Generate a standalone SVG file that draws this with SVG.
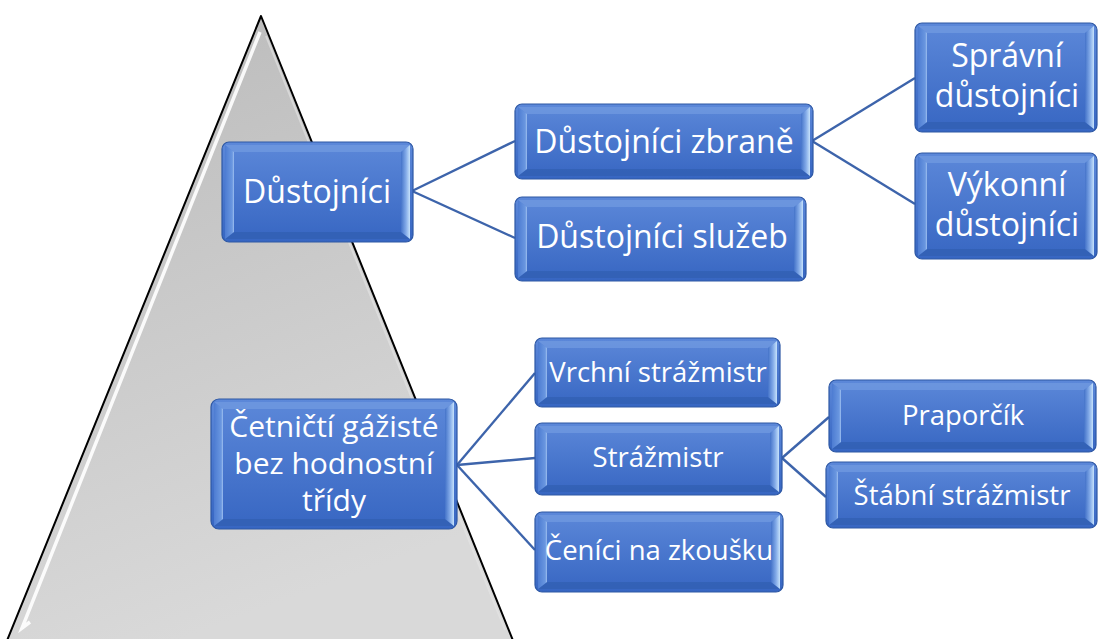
<svg xmlns="http://www.w3.org/2000/svg" width="1098" height="639" viewBox="0 0 1098 639">
<defs>
<linearGradient id="tri" x1="0" y1="0" x2="0.3" y2="1">
<stop offset="0" stop-color="#bababa"/>
<stop offset="1" stop-color="#d9d9d9"/>
</linearGradient>
<linearGradient id="face" x1="0" y1="0" x2="0" y2="1">
<stop offset="0" stop-color="#5c88d9"/>
<stop offset="1" stop-color="#3766c2"/>
</linearGradient>
<linearGradient id="rb" x1="0" y1="0" x2="1" y2="0">
<stop offset="0" stop-color="#4473c9"/>
<stop offset="0.55" stop-color="#82aae8"/>
<stop offset="1" stop-color="#c6e2fb"/>
</linearGradient>
<linearGradient id="lb" x1="0" y1="0" x2="1" y2="0">
<stop offset="0" stop-color="#4d7cd2"/>
<stop offset="0.8" stop-color="#6a97e0"/>
<stop offset="1" stop-color="#9fc0f0"/>
</linearGradient>
<style>
.box{fill:url(#face);stroke:#2e58a4;stroke-width:1.2}
.tb{fill:#6f98e0;opacity:0.8}
.bb{fill:#3260b4;opacity:0.85}
.lb{fill:url(#lb)}
.rb{fill:url(#rb)}
.t{fill:#ffffff;font-family:"Open Sans","Noto Sans","Liberation Sans",sans-serif;text-anchor:middle}
.l{font-size:32px}
.m{font-size:30px}
.s{font-size:27.5px}
.c{stroke:#3d64ab;stroke-width:2.4;fill:none}
</style>
</defs>
<rect width="1098" height="639" fill="#ffffff"/>
<g id="pyramid">
<polygon points="261,16 4,648 516,648" fill="url(#tri)" stroke="#000000" stroke-width="2" stroke-linejoin="round"/>
<polyline points="260,32 22,628 30,622" fill="none" stroke="#ffffff" stroke-width="3.5" opacity="0.9"/>
<line x1="266" y1="36" x2="505" y2="630" stroke="#e6e6e6" stroke-width="2" opacity="0.6"/>
</g>
<g id="connectors">
<line class="c" x1="412" y1="191" x2="515" y2="141"/>
<line class="c" x1="412" y1="191" x2="515" y2="238"/>
<line class="c" x1="812" y1="141" x2="915" y2="78"/>
<line class="c" x1="812" y1="141" x2="915" y2="204"/>
<line class="c" x1="457" y1="465" x2="535" y2="373"/>
<line class="c" x1="457" y1="465" x2="535" y2="458"/>
<line class="c" x1="457" y1="465" x2="535" y2="550"/>
<line class="c" x1="782" y1="458" x2="829" y2="417"/>
<line class="c" x1="782" y1="458" x2="826" y2="497"/>
</g>
<g id="n-dustojnici">
<rect class="box" x="222" y="142" width="191" height="100" rx="7"/>
<polygon class="tb" points="225,145 410,145 401,152 234,152"/>
<polygon class="bb" points="225,239 410,239 401,232 234,232"/>
<polygon class="lb" points="225,145 234,152 234,232 225,239"/>
<polygon class="rb" points="401,152 410,145 410,239 401,232"/>
<text class="t l" x="317" y="203">Důstojníci</text>
</g>
<g id="n-zbrane">
<rect class="box" x="515" y="104" width="298" height="75" rx="7"/>
<polygon class="tb" points="518,107 810,107 801,114 527,114"/>
<polygon class="bb" points="518,176 810,176 801,169 527,169"/>
<polygon class="lb" points="518,107 527,114 527,169 518,176"/>
<polygon class="rb" points="801,114 810,107 810,176 801,169"/>
<text class="t l" x="664" y="153">Důstojníci zbraně</text>
</g>
<g id="n-sluzeb">
<rect class="box" x="515" y="197" width="291" height="84" rx="7"/>
<polygon class="tb" points="518,200 803,200 794,207 527,207"/>
<polygon class="bb" points="518,278 803,278 794,271 527,271"/>
<polygon class="lb" points="518,200 527,207 527,271 518,278"/>
<polygon class="rb" points="794,207 803,200 803,278 794,271"/>
<text class="t l" x="662" y="248">Důstojníci služeb</text>
</g>
<g id="n-spravni">
<rect class="box" x="915" y="23" width="182" height="109" rx="7"/>
<polygon class="tb" points="918,26 1094,26 1085,33 927,33"/>
<polygon class="bb" points="918,129 1094,129 1085,122 927,122"/>
<polygon class="lb" points="918,26 927,33 927,122 918,129"/>
<polygon class="rb" points="1085,33 1094,26 1094,129 1085,122"/>
<text class="t l" x="1007" y="67">Správní</text>
<text class="t l" x="1007" y="107">důstojníci</text>
</g>
<g id="n-vykonni">
<rect class="box" x="915" y="153" width="182" height="106" rx="7"/>
<polygon class="tb" points="918,156 1094,156 1085,163 927,163"/>
<polygon class="bb" points="918,256 1094,256 1085,249 927,249"/>
<polygon class="lb" points="918,156 927,163 927,249 918,256"/>
<polygon class="rb" points="1085,163 1094,156 1094,256 1085,249"/>
<text class="t l" x="1007" y="196">Výkonní</text>
<text class="t l" x="1007" y="236">důstojníci</text>
</g>
<g id="n-cetnicti">
<rect class="box" x="211" y="399" width="246" height="130" rx="8"/>
<polygon class="tb" points="214,402 454,402 445,409 223,409"/>
<polygon class="bb" points="214,526 454,526 445,519 223,519"/>
<polygon class="lb" points="214,402 223,409 223,519 214,526"/>
<polygon class="rb" points="445,409 454,402 454,526 445,519"/>
<text class="t m" x="334" y="437">Četničtí gážisté</text>
<text class="t m" x="334" y="474">bez hodnostní</text>
<text class="t m" x="334" y="511">třídy</text>
</g>
<g id="n-vrchni">
<rect class="box" x="535" y="338" width="245" height="69" rx="7"/>
<polygon class="tb" points="538,341 777,341 768,348 547,348"/>
<polygon class="bb" points="538,404 777,404 768,397 547,397"/>
<polygon class="lb" points="538,341 547,348 547,397 538,404"/>
<polygon class="rb" points="768,348 777,341 777,404 768,397"/>
<text class="t s" x="658" y="382">Vrchní strážmistr</text>
</g>
<g id="n-strazmistr">
<rect class="box" x="535" y="423" width="247" height="72" rx="7"/>
<polygon class="tb" points="538,426 779,426 770,433 547,433"/>
<polygon class="bb" points="538,492 779,492 770,485 547,485"/>
<polygon class="lb" points="538,426 547,433 547,485 538,492"/>
<polygon class="rb" points="770,433 779,426 779,492 770,485"/>
<text class="t s" x="658" y="467">Strážmistr</text>
</g>
<g id="n-cenici">
<rect class="box" x="535" y="512" width="248" height="80" rx="7"/>
<polygon class="tb" points="538,515 780,515 771,522 547,522"/>
<polygon class="bb" points="538,589 780,589 771,582 547,582"/>
<polygon class="lb" points="538,515 547,522 547,582 538,589"/>
<polygon class="rb" points="771,522 780,515 780,589 771,582"/>
<text class="t s" x="659" y="560">Čeníci na zkoušku</text>
</g>
<g id="n-praporcik">
<rect class="box" x="829" y="380" width="267" height="72" rx="7"/>
<polygon class="tb" points="832,383 1093,383 1084,390 841,390"/>
<polygon class="bb" points="832,449 1093,449 1084,442 841,442"/>
<polygon class="lb" points="832,383 841,390 841,442 832,449"/>
<polygon class="rb" points="1084,390 1093,383 1093,449 1084,442"/>
<text class="t s" x="963" y="425">Praporčík</text>
</g>
<g id="n-stabni">
<rect class="box" x="826" y="462" width="271" height="66" rx="7"/>
<polygon class="tb" points="829,465 1094,465 1085,472 838,472"/>
<polygon class="bb" points="829,525 1094,525 1085,518 838,518"/>
<polygon class="lb" points="829,465 838,472 838,518 829,525"/>
<polygon class="rb" points="1085,472 1094,465 1094,525 1085,518"/>
<text class="t s" x="962" y="505">Štábní strážmistr</text>
</g>
</svg>
